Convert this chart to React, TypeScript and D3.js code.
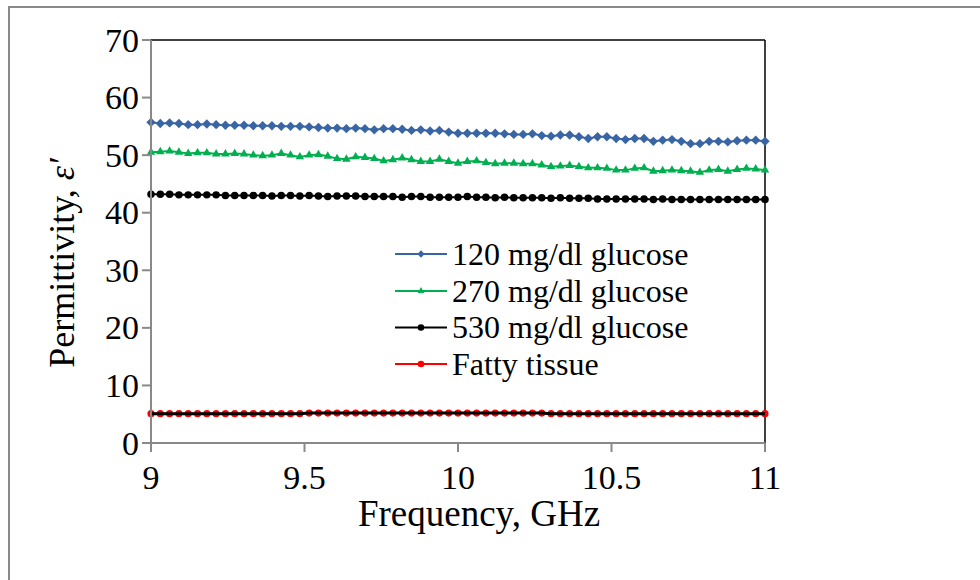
import React from "react";
import * as d3 from "d3";

const xTicks = [9, 9.5, 10, 10.5, 11];
const yTicks = [0, 10, 20, 30, 40, 50, 60, 70];

const blue = [
  55.7, 55.5, 55.6, 55.5, 55.3, 55.3, 55.4, 55.3, 55.2, 55.2,
  55.2, 55.1, 55.1, 55.1, 55.0, 55.0, 55.0, 54.9, 54.8, 54.7,
  54.7, 54.6, 54.7, 54.6, 54.4, 54.6, 54.6, 54.5, 54.3, 54.4,
  54.2, 54.3,
  54.0, 53.8, 53.8, 53.8, 53.8, 53.8, 53.7, 53.6, 53.6, 53.7,
  53.4, 53.3, 53.5, 53.5, 53.2, 52.9, 53.2, 53.2, 52.9, 52.7,
  52.9, 52.9, 52.4, 52.6, 52.7, 52.4, 52.0, 52.0, 52.4, 52.4,
  52.3, 52.5, 52.6, 52.6, 52.4,
];
const green = [
  50.5, 50.6, 50.7, 50.5, 50.3, 50.4, 50.4, 50.2, 50.2, 50.3,
  50.2, 50.0, 49.9, 50.0, 50.3, 50.0, 49.7, 50.0, 50.1, 49.8,
  49.4, 49.3, 49.7, 49.6, 49.4, 49.0, 49.2, 49.5, 49.2, 48.9,
  48.9, 49.3,
  48.9, 48.6, 48.9, 49.0, 48.7, 48.5, 48.6, 48.6, 48.5, 48.5,
  48.3, 48.0, 48.1, 48.2, 48.0, 47.8, 47.8, 47.7, 47.4, 47.4,
  47.7, 47.8, 47.2, 47.3, 47.4, 47.3, 47.2, 47.0, 47.4, 47.5,
  47.2, 47.5, 47.7, 47.6, 47.4,
];
const black = [
  43.2, 43.2, 43.2, 43.1, 43.1, 43.1, 43.1, 43.1, 43.0, 43.0,
  43.0, 43.0, 43.0, 42.9, 43.0, 43.0, 42.9, 43.0, 42.9, 42.8,
  42.9, 42.9, 42.9, 42.8, 42.8, 42.8, 42.8, 42.7, 42.8, 42.8,
  42.7, 42.7, 42.7, 42.7, 42.8, 42.7, 42.7, 42.6, 42.7, 42.6,
  42.6, 42.6, 42.6, 42.5, 42.6, 42.5, 42.5, 42.5, 42.4, 42.4,
  42.4, 42.4, 42.4, 42.4, 42.3, 42.4, 42.3, 42.3, 42.3, 42.3,
  42.3, 42.3, 42.3, 42.3, 42.3, 42.3, 42.3,
];
const red = [
  5.1, 5.1, 5.1, 5.1, 5.1, 5.1, 5.1, 5.1, 5.1, 5.1,
  5.1, 5.1, 5.1, 5.1, 5.1, 5.1, 5.1, 5.2, 5.2, 5.2,
  5.2, 5.2, 5.2, 5.2, 5.2, 5.2, 5.2, 5.2, 5.2, 5.2,
  5.2, 5.2, 5.2, 5.2, 5.2, 5.2, 5.2, 5.2, 5.2, 5.2,
  5.2, 5.2, 5.2, 5.1, 5.1, 5.1, 5.1, 5.1, 5.1, 5.1,
  5.1, 5.1, 5.1, 5.1, 5.1, 5.1, 5.1, 5.1, 5.1, 5.1,
  5.1, 5.1, 5.1, 5.1, 5.1, 5.1, 5.1,
];

const N = 67;
const freqs = d3.range(N).map((i) => 9 + (2 * i) / (N - 1));

const seriesNames = ["120 mg/dl glucose", "270 mg/dl glucose", "530 mg/dl glucose", "Fatty tissue"];
const seriesColors = ["#3a65a5", "#00b050", "#000000", "#ff0000"];
const seriesMarkers = ["diamond", "triangle", "circle", "circle"];
const seriesValues = [blue, green, black, red];

const FONT = "'Liberation Serif', 'Times New Roman', serif";

function markerPath(type: string, size: number) {
  const sym =
    type === "diamond" ? d3.symbolDiamond2 : type === "triangle" ? d3.symbolTriangle2 : d3.symbolCircle;
  return d3.symbol().type(sym).size(size)() as string;
}

export default function App() {
  const x = d3.scaleLinear().domain([9, 11]).range([151, 765]);
  const y = d3.scaleLinear().domain([0, 70]).range([443, 40]);
  const line = d3
    .line<number>()
    .x((_, i) => x(freqs[i]))
    .y((d) => y(d));

  const sizes = [56, 52, 44, 40];
  const legendY = [254, 291, 327.5, 364];

  return (
    <div style={{ position: "fixed", left: 0, top: 0 }}>
      <svg width={980} height={580} style={{ display: "block", background: "#fff" }}>
        <rect x={9} y={7} width={1100} height={1100} fill="none" stroke="#898989" strokeWidth={2} />

        <line x1={x(9)} x2={x(11)} y1={y(70)} y2={y(70)} stroke="#000" strokeWidth={1.5} />
        <line x1={x(11)} x2={x(11)} y1={y(70)} y2={y(0)} stroke="#000" strokeWidth={1.5} />

        {seriesValues.map((vals, si) => (
          <g key={si}>
            <path d={line(vals) as string} fill="none" stroke={seriesColors[si]} strokeWidth={2} />
            {vals.map((v, i) => (
              <path
                key={i}
                d={markerPath(seriesMarkers[si], sizes[si])}
                transform={`translate(${x(freqs[i])},${y(v)})`}
                fill={seriesColors[si]}
              />
            ))}
          </g>
        ))}
        <path d={line(red) as string} fill="none" stroke="#000" strokeWidth={3} />

        <line x1={x(9)} x2={x(9)} y1={y(70)} y2={y(0)} stroke="#898989" strokeWidth={2} />
        <line x1={x(9)} x2={x(11)} y1={y(0)} y2={y(0)} stroke="#898989" strokeWidth={2} />
        {yTicks.map((t) => (
          <g key={t}>
            <line x1={142} x2={x(9)} y1={y(t)} y2={y(t)} stroke="#898989" strokeWidth={2} />
            <text
              x={139}
              y={y(t)}
              dy="0.34em"
              textAnchor="end"
              fontFamily={FONT}
              fontSize={34}
              fill="#000"
            >
              {t}
            </text>
          </g>
        ))}
        {xTicks.map((t) => (
          <g key={t}>
            <line x1={x(t)} x2={x(t)} y1={y(0)} y2={452} stroke="#898989" strokeWidth={2} />
            <text x={x(t)} y={489} textAnchor="middle" fontFamily={FONT} fontSize={34} fill="#000">
              {t}
            </text>
          </g>
        ))}

        <text x={479} y={526} textAnchor="middle" fontFamily={FONT} fontSize={37} fill="#000">
          Frequency, GHz
        </text>
        <text
          transform={`translate(74,263) rotate(-90)`}
          textAnchor="middle"
          fontFamily={FONT}
          fontSize={36}
          fill="#000"
        >
          Permittivity, <tspan fontStyle="italic">ε′</tspan>
        </text>

        {seriesNames.map((name, si) => (
          <g key={name}>
            <line x1={395} x2={447} y1={legendY[si]} y2={legendY[si]} stroke={seriesColors[si]} strokeWidth={2} />
            <path
              d={markerPath(seriesMarkers[si], 34)}
              transform={`translate(421,${legendY[si]})`}
              fill={seriesColors[si]}
            />
            <text x={452} y={legendY[si]} dy="0.34em" fontFamily={FONT} fontSize={32} fill="#000">
              {name}
            </text>
          </g>
        ))}
      </svg>
    </div>
  );
}
